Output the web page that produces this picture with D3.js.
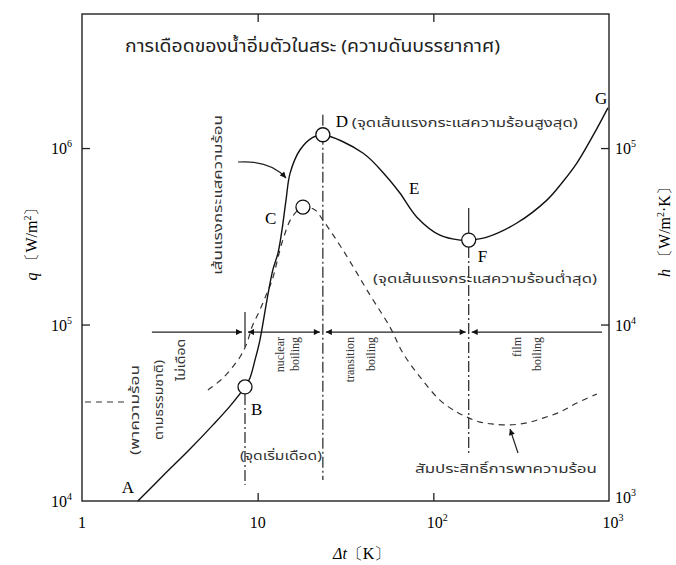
<!DOCTYPE html>
<html>
<head>
<meta charset="utf-8">
<script src="https://cdn.jsdelivr.net/npm/d3@7"></script>
<style>
  body { margin: 0; background: #fff; }
  .serif { font-family: "Liberation Serif", "DejaVu Serif", serif; }
  .thai { font-family: "Noto Sans Thai", "Noto Serif Thai", "Loma", "Garuda", "Norasi", "Waree", "DejaVu Sans", sans-serif; }
</style>
</head>
<body>
<svg class="drawSpace" width="676" height="565"></svg>
<script>
// boiling curve (solid): superheat dt [K] and heat flux q [W/m2]
const boilDt = [2.08, 2.89, 4.12, 5.57, 6.96, 8.47, 9.04, 9.66, 10.3, 11.3, 12.2, 13.05, 13.75, 14.5, 15.3, 17.4, 20.6, 23.5,
  39.7, 54.4, 64.5, 80.6, 109, 142, 159, 202, 299, 443, 539, 656, 853, 986];
const boilQ = [1.0e4, 1.39e4, 1.97e4, 2.7e4, 3.45e4, 4.43e4, 4.98e4, 6.3e4, 8.17e4, 1.38e5, 2.04e5, 2.54e5, 3.43e5, 5.07e5, 7.21e5, 9.75e5, 1.15e6, 1.19e6,
  9.38e5, 6.86e5, 5.56e5, 4.06e5, 3.21e5, 3.01e5, 3.01e5, 3.13e5, 3.76e5, 5.07e5, 6.34e5, 8.22e5, 1.29e6, 1.69e6];

// heat transfer coefficient (dashed): dt [K] and h [W/m2K]
const convDt = [1.04, 1.83];
const convH = [3.64e3, 3.64e3];
const hDt = [5.21, 6.35, 7.93, 8.69, 9.28, 10.3, 11.3, 12.1, 13.9, 15.7, 18.1, 21.2, 23.5, 30.6, 43.6, 56.6, 67.1, 83.9,
  109, 136, 155, 184, 218, 273, 341, 421, 525, 656, 853];
const hH = [4.26e3, 4.98e3, 6.55e3, 7.86e3, 9.68e3, 1.21e4, 1.51e4, 1.79e4, 3.01e4, 4.06e4, 4.63e4, 4.46e4, 3.91e4, 2.64e4, 1.47e4, 9.68e3, 6.9e3, 5.05e3,
  3.73e3, 3.19e3, 2.99e3, 2.8e3, 2.73e3, 2.7e3, 2.77e3, 2.95e3, 3.19e3, 3.59e3, 4.04e3];

// marked points
const ptB = [8.47, 4.43e4];
const ptD = [23.5, 1.19e6];
const ptF = [159, 3.01e5];
const hMax = [18.1, 4.63e4];

// regime boundaries (B, D, F) and the arrow row
const regimeDt = [8.47, 23.5, 159];
const arrowQ = 9.06e4;
const arrowStartDt = 2.5;

// ticks
const xTicks = [1, 10, 100, 1000];
const xTickLabels = [['1', ''], ['10', ''], ['10', '2'], ['10', '3']];
const qTicks = [1e4, 1e5, 1e6];
const qTickLabels = [['10', '4'], ['10', '5'], ['10', '6']];
const hTicks = [1e3, 1e4, 1e5];
const hTickLabels = [['10', '3'], ['10', '4'], ['10', '5']];

const title = 'การเดือดของน้ำอิ่มตัวในสระ (ความดันบรรยากาศ)';

const svg = d3.select('.drawSpace');
const L = 82, R = 609, T = 14, B = 501;

const x = d3.scaleLog().domain([1, 1000]).range([L, R]);
const y = d3.scaleLog().domain([1e4, 5.75e6]).range([B, T]);
const yh = d3.scaleLog().domain([1e3, 5.75e5]).range([B, T]);

const defs = svg.append('defs');
defs.append('marker').attr('id', 'ah').attr('viewBox', '0 0 10 10')
  .attr('refX', 10).attr('refY', 5).attr('markerWidth', 9).attr('markerHeight', 6)
  .attr('markerUnits', 'userSpaceOnUse').attr('orient', 'auto-start-reverse')
  .append('path').attr('d', 'M0,0L10,5L0,10Z').attr('fill', '#111');

// frame
svg.append('rect').attr('x', L).attr('y', T).attr('width', R - L).attr('height', B - T)
  .attr('fill', 'none').attr('stroke', '#222').attr('stroke-width', 1.4);

// inward ticks
const tickStyle = (g) => { g.select('.domain').remove(); g.selectAll('line').attr('stroke', '#222').attr('stroke-width', 1.3); };
svg.append('g').attr('transform', `translate(0,${B})`)
  .call(d3.axisBottom(x).tickValues(xTicks.slice(1, 3)).tickSizeInner(-8).tickSizeOuter(0).tickFormat('')).call(tickStyle);
svg.append('g').attr('transform', `translate(0,${T})`)
  .call(d3.axisTop(x).tickValues(xTicks.slice(1, 3)).tickSizeInner(-8).tickSizeOuter(0).tickFormat('')).call(tickStyle);
svg.append('g').attr('transform', `translate(${L},0)`)
  .call(d3.axisLeft(y).tickValues(qTicks.slice(1)).tickSizeInner(-8).tickSizeOuter(0).tickFormat('')).call(tickStyle);
svg.append('g').attr('transform', `translate(${R},0)`)
  .call(d3.axisRight(yh).tickValues(hTicks.slice(1)).tickSizeInner(-8).tickSizeOuter(0).tickFormat('')).call(tickStyle);

function supText(sel) {
  sel.each(function (d) {
    const t = d3.select(this);
    t.text(d[0]);
    if (d[1]) t.append('tspan').attr('dy', -7).attr('font-size', 10).text(d[1]);
  });
}

svg.append('g').selectAll('text').data(xTickLabels).enter().append('text')
  .attr('class', 'serif').attr('font-size', 16).attr('text-anchor', 'middle')
  .attr('x', (d, i) => x(xTicks[i]) + (d[1] ? 4 : 0)).attr('y', B + 27).call(supText);
svg.append('g').selectAll('text').data(qTickLabels).enter().append('text')
  .attr('class', 'serif').attr('font-size', 16).attr('text-anchor', 'end')
  .attr('x', L - 10).attr('y', (d, i) => y(qTicks[i]) + 6).call(supText);
svg.append('g').selectAll('text').data(hTickLabels).enter().append('text')
  .attr('class', 'serif').attr('font-size', 16).attr('text-anchor', 'start')
  .attr('x', R + 6).attr('y', (d, i) => yh(hTicks[i]) + (i === 0 ? 2 : 6)).call(supText);

// axis titles
const qt = svg.append('text').attr('class', 'serif').attr('font-size', 16)
  .attr('text-anchor', 'middle').attr('transform', `translate(37,240) rotate(-90)`);
qt.append('tspan').attr('font-style', 'italic').text('q');
qt.append('tspan').text(' 〔W/m');
qt.append('tspan').attr('dy', -6).attr('font-size', 10).text('2');
qt.append('tspan').attr('dy', 6).text('〕');

const ht = svg.append('text').attr('class', 'serif').attr('font-size', 16)
  .attr('text-anchor', 'middle').attr('transform', `translate(670,228) rotate(-90)`);
ht.append('tspan').attr('font-style', 'italic').text('h');
ht.append('tspan').text(' 〔W/m');
ht.append('tspan').attr('dy', -6).attr('font-size', 10).text('2');
ht.append('tspan').attr('dy', 6).text('·K〕');

const xt = svg.append('text').attr('class', 'serif').attr('font-size', 16)
  .attr('x', 333).attr('y', 559);
xt.append('tspan').attr('font-style', 'italic').text('Δt');
xt.append('tspan').text('〔K〕');

// title
svg.append('text').attr('class', 'thai').attr('font-size', 17).attr('fill', '#222')
  .attr('x', 125).attr('y', 52).attr('textLength', 375).attr('lengthAdjust', 'spacingAndGlyphs').text(title);

// regime arrows
const ya = y(arrowQ);
const segs = [
  [x(arrowStartDt), x(regimeDt[0]) - 3, false],
  [x(regimeDt[0]) + 3, x(regimeDt[1]) - 3, true],
  [x(regimeDt[1]) + 3, x(regimeDt[2]) - 3, true],
  [x(regimeDt[2]) + 3, R - 7, 'start']
];
svg.append('g').selectAll('line').data(segs).enter().append('line')
  .attr('x1', (d) => d[0]).attr('x2', (d) => d[1]).attr('y1', ya).attr('y2', ya)
  .attr('stroke', '#222').attr('stroke-width', 1.2)
  .attr('marker-end', (d) => (d[2] === 'start' ? null : 'url(#ah)'))
  .attr('marker-start', (d) => (d[2] ? 'url(#ah)' : null));

// boundary lines
const dashDot = '11,3,2,3';
const bx = x(regimeDt[0]), dx = x(regimeDt[1]), fx = x(regimeDt[2]);
const vlines = [
  [bx, ya - 20, ya + 15, null],
  [bx, y(ptB[1]) + 7, 485, dashDot],
  [dx, y(ptD[1]) - 20, 480, dashDot],
  [fx, y(ptF[1]) - 32, y(ptF[1]) - 7, null],
  [fx, y(ptF[1]) + 7, 455, dashDot]
];
svg.append('g').selectAll('line').data(vlines).enter().append('line')
  .attr('x1', (d) => d[0]).attr('x2', (d) => d[0]).attr('y1', (d) => d[1]).attr('y2', (d) => d[2])
  .attr('stroke', '#222').attr('stroke-width', 1.2).attr('stroke-dasharray', (d) => d[3]);

// curves
const boilLine = d3.line().x((d) => x(d[0])).y((d) => y(d[1])).curve(d3.curveCatmullRom.alpha(0.5));
const hLine = d3.line().x((d) => x(d[0])).y((d) => yh(d[1])).curve(d3.curveCatmullRom.alpha(0.5));

svg.append('path').datum(d3.zip(convDt, convH)).attr('d', hLine)
  .attr('fill', 'none').attr('stroke', '#333').attr('stroke-width', 1.2).attr('stroke-dasharray', '6,5');
svg.append('path').datum(d3.zip(hDt, hH)).attr('d', hLine)
  .attr('fill', 'none').attr('stroke', '#333').attr('stroke-width', 1.2).attr('stroke-dasharray', '6,5');
svg.append('path').datum(d3.zip(boilDt, boilQ)).attr('d', boilLine)
  .attr('fill', 'none').attr('stroke', '#111').attr('stroke-width', 1.4);

// markers
const circles = [[x(ptB[0]), y(ptB[1])], [x(ptD[0]), y(ptD[1])], [x(ptF[0]), y(ptF[1])], [x(hMax[0]), yh(hMax[1])]];
svg.append('g').selectAll('circle').data(circles).enter().append('circle')
  .attr('cx', (d) => d[0]).attr('cy', (d) => d[1]).attr('r', 7)
  .attr('fill', '#fff').attr('stroke', '#111').attr('stroke-width', 1.3);

// point letters
const letters = [
  ['A', x(boilDt[0]) - 16, B - 8],
  ['B', x(ptB[0]) + 6, y(ptB[1]) + 28],
  ['C', 265, 224],
  ['D', x(ptD[0]) + 13, y(ptD[1]) - 8],
  ['E', 409, 194],
  ['F', x(ptF[0]) + 9, y(ptF[1]) + 22],
  ['G', 595, 104]
];
svg.append('g').selectAll('text').data(letters).enter().append('text')
  .attr('class', 'serif').attr('font-size', 17)
  .attr('x', (d) => d[1]).attr('y', (d) => d[2]).text((d) => d[0]);

// thai annotations
const notes = [
  ['(จุดเส้นแรงกระแสความร้อนสูงสุด)', x(ptD[0]) + 29, y(ptD[1]) - 8, 'start', 226],
  ['(จุดเส้นแรงกระแสความร้อนต่ำสุด)', 373, 283, 'start', 224],
  ['(จุดเริ่มเดือด)', 240, 460, 'start', 82],
  ['สัมประสิทธิ์การพาความร้อน', 415, 473, 'start', 182]
];
svg.append('g').selectAll('text').data(notes).enter().append('text')
  .attr('class', 'thai').attr('font-size', 13).attr('text-anchor', (d) => d[3])
  .attr('textLength', (d) => d[4]).attr('lengthAdjust', 'spacingAndGlyphs')
  .attr('x', (d) => d[1]).attr('y', (d) => d[2]).attr('fill', '#333').text((d) => d[0]);

// rotated labels
const vnotes = [
  ['เส้นแรงกระแสความร้อน', 222, 195, 'middle', 'thai', 13, 160],
  ['(พาความร้อน', 139, 410, 'middle', 'thai', 13, 90],
  ['ตามธรรมชาติ)', 163, 400, 'middle', 'thai', 13, 80],
  ['ไม่เดือด', 185, 360, 'middle', 'thai', 13, 42],
  ['nuclear', 284, 337, 'end', 'serif', 12, null],
  ['boiling', 299, 337, 'end', 'serif', 12, null],
  ['transition', 354, 337, 'end', 'serif', 12, null],
  ['boiling', 375, 337, 'end', 'serif', 12, null],
  ['film', 521, 337, 'end', 'serif', 12, null],
  ['boiling', 541, 337, 'end', 'serif', 12, null]
];
svg.append('g').selectAll('text').data(vnotes).enter().append('text')
  .attr('class', (d) => d[4]).attr('font-size', (d) => d[5]).attr('text-anchor', (d) => d[3])
  .attr('textLength', (d) => d[6]).attr('lengthAdjust', 'spacingAndGlyphs')
  .attr('fill', '#333')
  .attr('transform', (d) => `translate(${d[1]},${d[2]}) rotate(-90)`).text((d) => d[0]);

// pointer arrows
svg.append('path').attr('d', 'M238,162 Q270,160 286,178')
  .attr('fill', 'none').attr('stroke', '#222').attr('stroke-width', 1.2).attr('marker-end', 'url(#ah)');
svg.append('line').attr('x1', 518).attr('y1', 453).attr('x2', 510).attr('y2', 429)
  .attr('stroke', '#222').attr('stroke-width', 1.2).attr('marker-end', 'url(#ah)');
</script>
</body>
</html>
